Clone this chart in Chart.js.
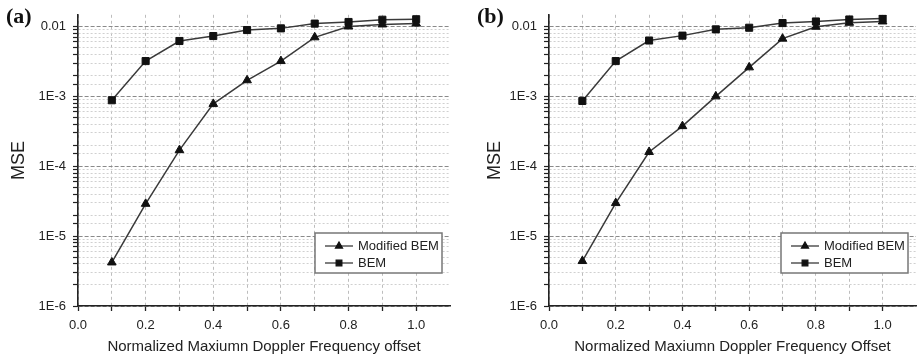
<!DOCTYPE html>
<html>
<head>
<meta charset="utf-8">
<script src="https://cdn.jsdelivr.net/npm/chart.js@4"></script>
<style>
  body { margin: 0; background: #fff; width: 922px; height: 358px; overflow: hidden; position: relative; }
  .panel { position: absolute; top: 0; }
  .tag { position: absolute; top: 5px; font: bold 22px "Liberation Serif", serif; line-height: 22px; color: #111; }
</style>
</head>
<body>
<div class="panel" style="left:0"><canvas id="chartA" width="461" height="358"></canvas></div>
<div class="panel" style="left:461px"><canvas id="chartB" width="461" height="358"></canvas></div>
<div class="tag" style="left:6px">(a)</div>
<div class="tag" style="left:477px">(b)</div>
<script>
// x positions (normalized max Doppler frequency offset)
const xValues = [0.1, 0.2, 0.3, 0.4, 0.5, 0.6, 0.7, 0.8, 0.9, 1.0];

// panel (a) MSE values
const modifiedA = [4.2e-6, 2.9e-5, 1.7e-4, 7.8e-4, 1.7e-3, 3.2e-3, 7.0e-3, 1.0e-2, 1.07e-2, 1.1e-2];
const bemA = [8.8e-4, 3.2e-3, 6.2e-3, 7.3e-3, 8.9e-3, 9.4e-3, 1.1e-2, 1.16e-2, 1.25e-2, 1.27e-2];

// panel (b) MSE values
const modifiedB = [4.4e-6, 2.97e-5, 1.6e-4, 3.75e-4, 1.0e-3, 2.6e-3, 6.7e-3, 9.9e-3, 1.13e-2, 1.18e-2];
const bemB = [8.6e-4, 3.2e-3, 6.3e-3, 7.4e-3, 9.1e-3, 9.6e-3, 1.12e-2, 1.18e-2, 1.26e-2, 1.3e-2];

const seriesNames = ['Modified BEM', 'BEM'];
const yTickValues = [1e-6, 1e-5, 1e-4, 1e-3, 1e-2];
const yTickLabels = ['1E-6', '1E-5', '1E-4', '1E-3', '0.01'];
const yMin = 1e-6, yMax = 0.0147;
const xMin = 0, xMax = 1.1;

function isDecade(v) {
    const l = Math.log10(v);
    return Math.abs(l - Math.round(l)) < 1e-6;
}

// legend drawn inside the plot, lower right
const boxLegend = {
    id: 'boxLegend',
    afterDraw(chart) {
        const { ctx, chartArea } = chart;
        const w = 127, h = 40;
        const left = chartArea.right - 8 - w;
        const top = chartArea.bottom - 33 - h;
        ctx.save();
        ctx.fillStyle = '#fff';
        ctx.fillRect(left, top, w, h);
        ctx.strokeStyle = '#777';
        ctx.lineWidth = 1.5;
        ctx.strokeRect(left, top, w, h);
        ctx.font = '13px "Liberation Sans", Arial, sans-serif';
        ctx.textBaseline = 'middle';
        chart.data.datasets.forEach((ds, i) => {
            const y = top + 13 + i * 17;
            ctx.strokeStyle = ds.borderColor;
            ctx.lineWidth = 1.3;
            ctx.beginPath();
            ctx.moveTo(left + 10, y);
            ctx.lineTo(left + 38, y);
            ctx.stroke();
            ctx.fillStyle = '#111';
            ctx.strokeStyle = '#111';
            Chart.helpers.drawPoint(ctx, { pointStyle: ds.pointStyle, radius: 4, borderWidth: 1 }, left + 24, y);
            ctx.fillStyle = '#222';
            ctx.fillText(ds.label, left + 43, y);
        });
        ctx.restore();
    }
};

function makeChart(id, modified, bem, yAxisWidth, rightPad, topPad, yTitlePad) {
    const ctx = document.getElementById(id).getContext('2d');
    return new Chart(ctx, {
        type: 'line',
        data: {
            datasets: [
                {
                    label: seriesNames[0],
                    data: xValues.map((x, i) => ({ x: x, y: modified[i] })),
                    borderColor: '#3a3a3a',
                    borderWidth: 1.5,
                    pointStyle: 'triangle',
                    pointRadius: 5,
                    pointBackgroundColor: '#111',
                    pointBorderColor: '#111',
                    pointBorderWidth: 1
                },
                {
                    label: seriesNames[1],
                    data: xValues.map((x, i) => ({ x: x, y: bem[i] })),
                    borderColor: '#3a3a3a',
                    borderWidth: 1.5,
                    pointStyle: 'rect',
                    pointRadius: 5,
                    pointBackgroundColor: '#111',
                    pointBorderColor: '#111',
                    pointBorderWidth: 1
                }
            ]
        },
        options: {
            responsive: false,
            animation: false,
            layout: { padding: { left: 0, right: rightPad, top: topPad, bottom: 0 } },
            plugins: { legend: { display: false }, tooltip: { enabled: false } },
            scales: {
                x: {
                    type: 'linear',
                    min: xMin,
                    max: xMax,
                    afterFit: s => { s.height = 52; },
                    ticks: {
                        stepSize: 0.1,
                        autoSkip: false,
                        maxRotation: 0,
                        padding: 7,
                        color: '#222',
                        font: { family: '"Liberation Sans", Arial, sans-serif', size: 13 },
                        callback: v => {
                            if (v > 1.05) return null;
                            return Math.abs(v * 5 - Math.round(v * 5)) < 1e-6 ? v.toFixed(1) : '';
                        }
                    },
                    grid: {
                        color: '#bdbdbd',
                        lineWidth: 1,
                        tickLength: 5,
                        tickColor: '#222',
                        tickWidth: 1.3
                    },
                    border: { display: true, color: '#222', width: 1.6, dash: [3, 3] },
                    title: {
                        display: true,
                        text: id === 'chartA' ? 'Normalized Maxiumn Doppler Frequency offset' : 'Normalized Maxiumn Doppler Frequency Offset',
                        color: '#222',
                        padding: { top: 0, bottom: 2 },
                        font: { family: '"Liberation Sans", Arial, sans-serif', size: 15 }
                    }
                },
                y: {
                    type: 'logarithmic',
                    min: yMin,
                    max: yMax,
                    afterFit: s => { s.width = yAxisWidth; },
                    ticks: {
                        autoSkip: false,
                        padding: 7,
                        color: '#222',
                        font: { family: '"Liberation Sans", Arial, sans-serif', size: 13 },
                        callback: v => {
                            if (v > 0.0105) return null;
                            const k = yTickValues.findIndex(t => Math.abs(t - v) / t < 1e-6);
                            return k >= 0 ? yTickLabels[k] : '';
                        }
                    },
                    grid: {
                        color: c => isDecade(c.tick.value) ? '#8a8a8a' : '#d0d0d0',
                        lineWidth: 1,
                        tickLength: 5,
                        tickColor: '#222',
                        tickWidth: 1.2
                    },
                    border: {
                        display: true,
                        color: '#222',
                        width: 1.6,
                        dash: c => (c.tick && isDecade(c.tick.value)) ? [4, 2] : [2, 2]
                    },
                    title: {
                        display: true,
                        text: 'MSE',
                        color: '#222',
                        padding: { top: yTitlePad, bottom: 0 },
                        font: { family: '"Liberation Sans", Arial, sans-serif', size: 18 }
                    }
                }
            }
        },
        plugins: [boxLegend]
    });
}

makeChart('chartA', modifiedA, bemA, 78, 11, 5, 8);
makeChart('chartB', modifiedB, bemB, 88, 0, 7, 23);
</script>
</body>
</html>
